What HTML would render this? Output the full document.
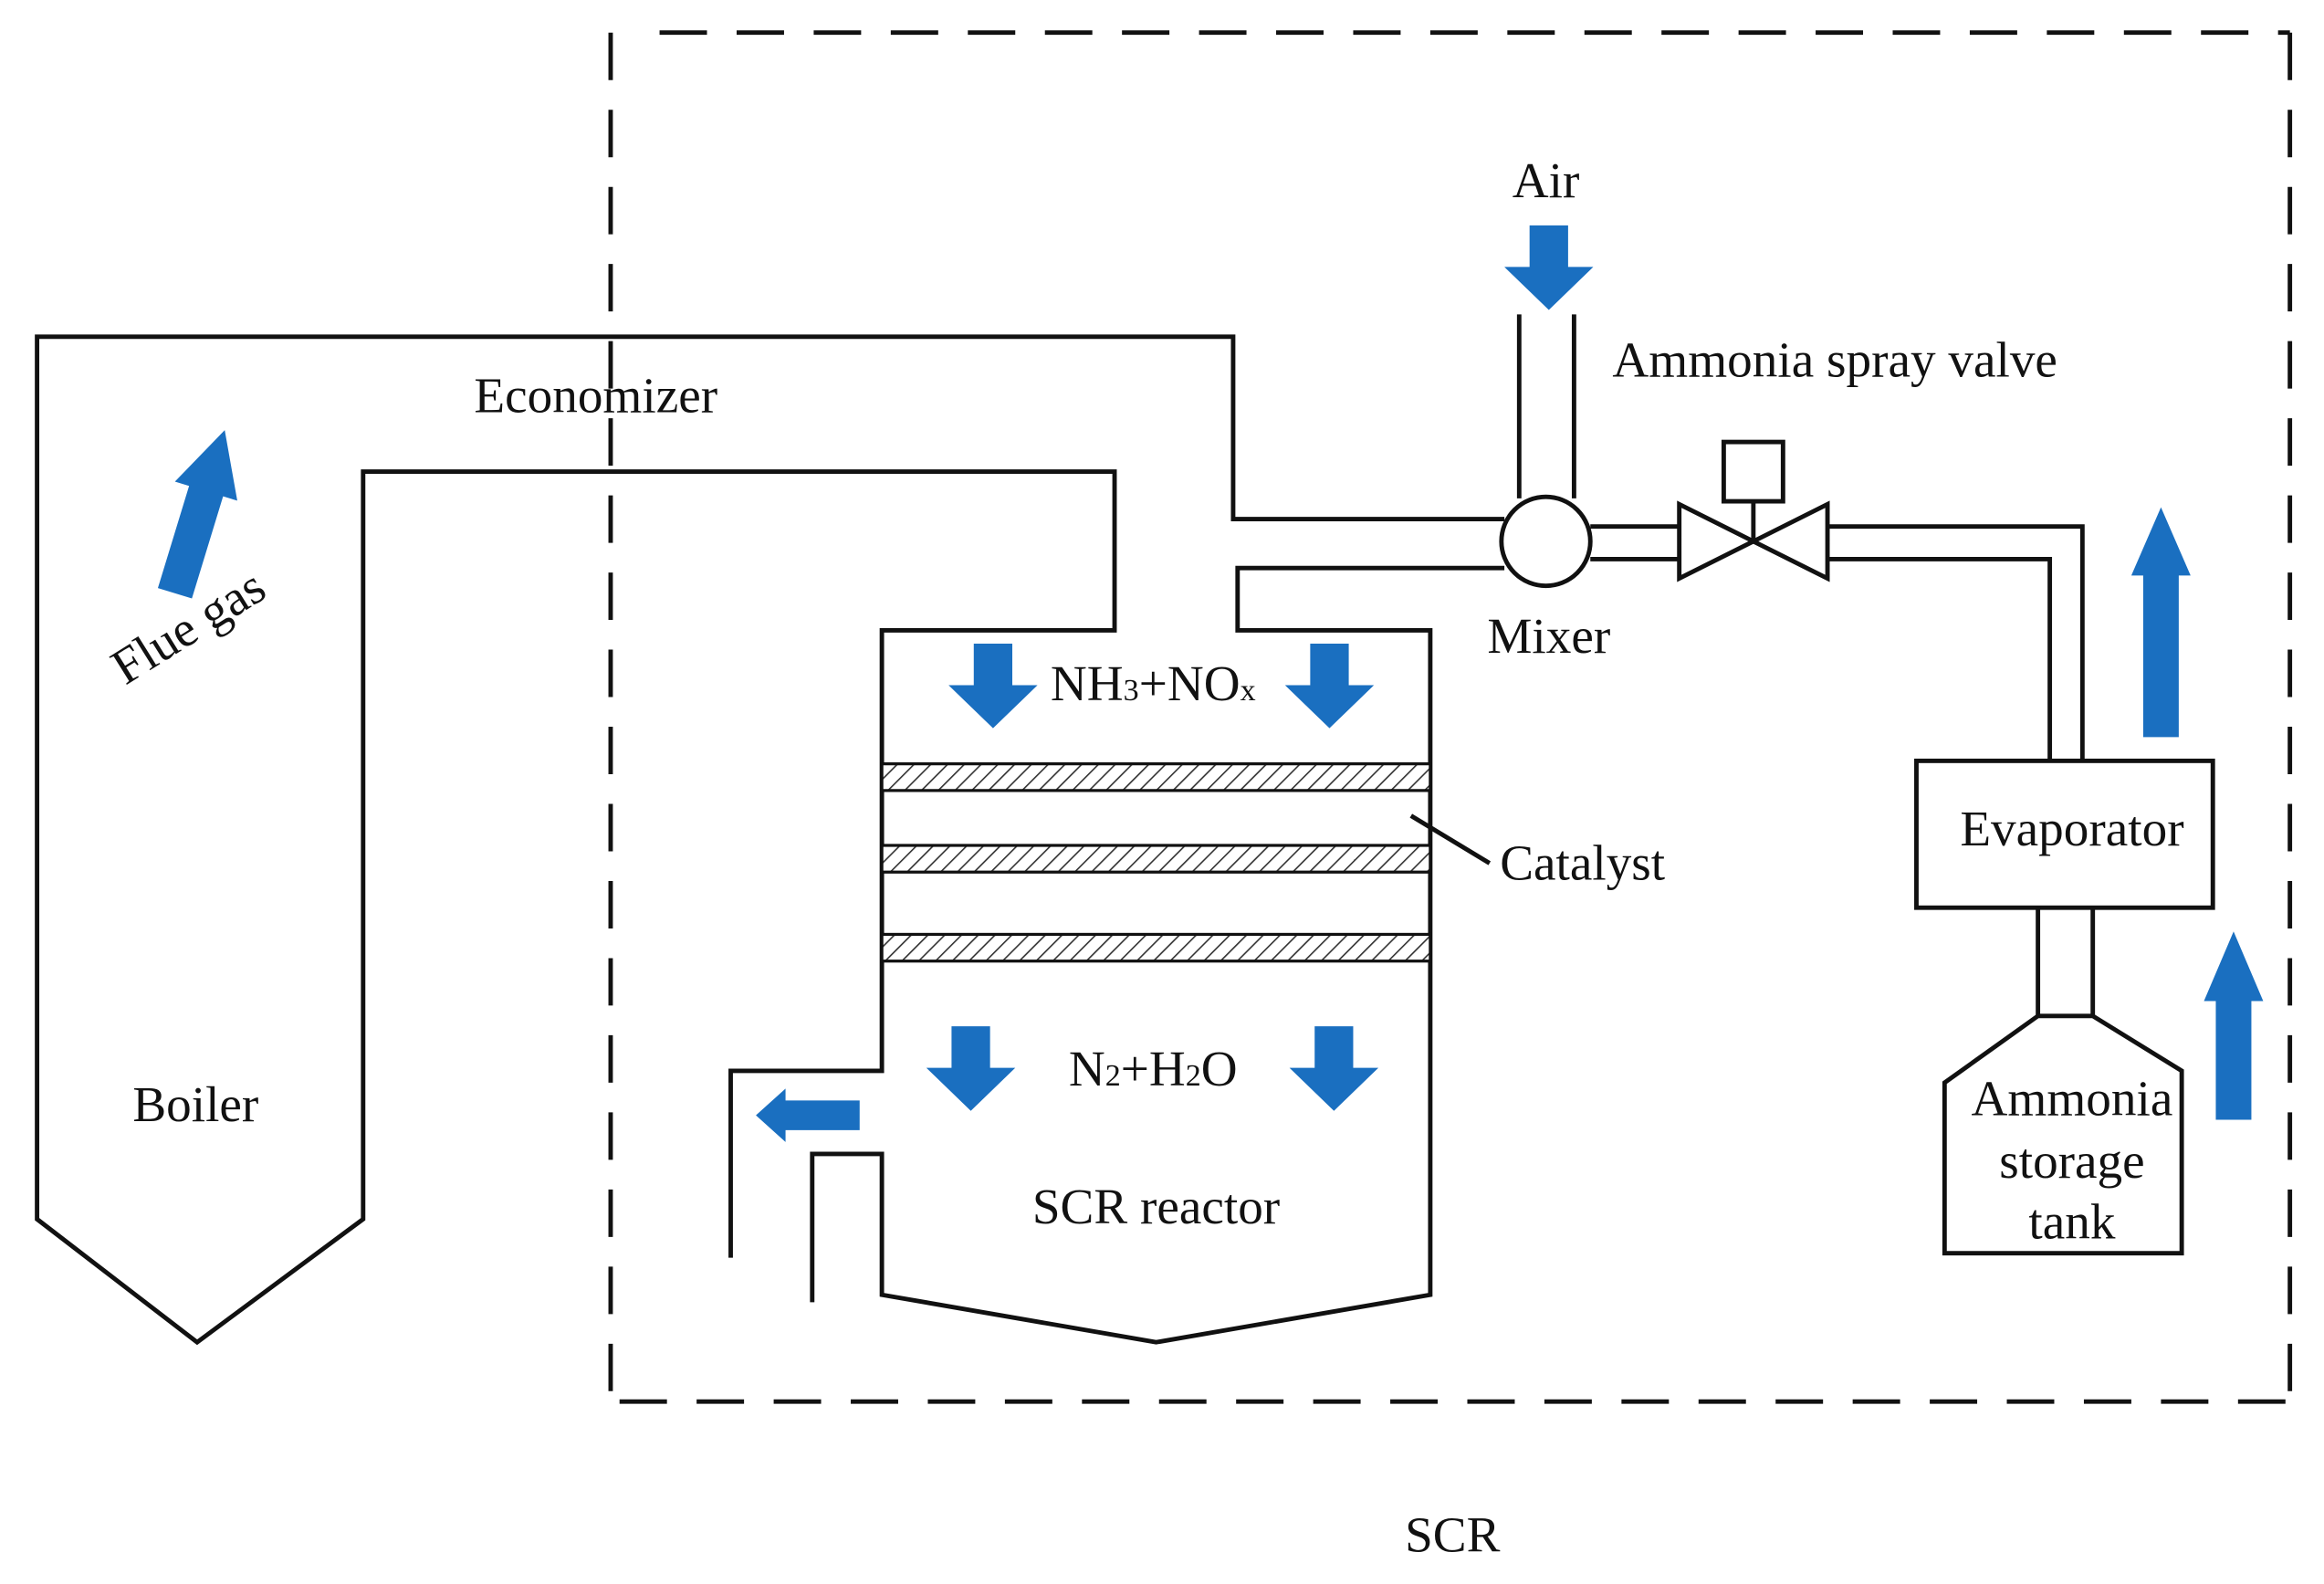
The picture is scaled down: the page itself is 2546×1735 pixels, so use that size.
<!DOCTYPE html>
<html><head><meta charset="utf-8"><style>
html,body{margin:0;padding:0;background:#fff;}
svg{display:block;}
text{font-family:"Liberation Serif",serif;font-size:34px;fill:#111;}
</style></head><body>
<svg width="2546" height="1735" viewBox="0 0 1568 1068" preserveAspectRatio="none" xmlns="http://www.w3.org/2000/svg">
<defs>
<pattern id="h" width="8" height="8" patternUnits="userSpaceOnUse" patternTransform="rotate(45)">
<rect width="8" height="8" fill="#fff"/><line x1="0" y1="0" x2="0" y2="8" stroke="#333" stroke-width="2"/>
</pattern>
<polygon id="da" points="-13,0 13,0 13,28 30,28 0,57 -30,28 -13,28" fill="#1a6fc0"/>
</defs>
<g fill="none" stroke="#111" stroke-width="3" stroke-dasharray="32,20">
<line x1="445" y1="22" x2="1545" y2="22"/>
<line x1="412" y1="22" x2="412" y2="945"/>
<line x1="418" y1="945" x2="1545" y2="945"/>
<line x1="1545" y1="22" x2="1545" y2="945"/>
</g>
<g fill="none" stroke="#111" stroke-width="3" stroke-linejoin="miter">
<polyline points="1015,350 832,350 832,227 25,227 25,822 133,905 245,822 245,318 752,318 752,425 595,425 595,722 493,722 493,848"/>
<polyline points="1015,383 835,383 835,425 965,425 965,873 780,905 595,873 595,778 548,778 548,878"/>
<circle cx="1043" cy="365" r="30" fill="#fff"/>
<line x1="1025" y1="212" x2="1025" y2="336"/>
<line x1="1062" y1="212" x2="1062" y2="336"/>
<line x1="1073" y1="355" x2="1133" y2="355"/>
<line x1="1073" y1="377" x2="1133" y2="377"/>
<polygon points="1133,340 1133,390 1183,365"/>
<polygon points="1233,340 1233,390 1183,365"/>
<line x1="1183" y1="365" x2="1183" y2="338"/>
<rect x="1163" y="298" width="40" height="40"/>
<polyline points="1233,355 1405,355 1405,513"/>
<polyline points="1233,377 1383,377 1383,513"/>
<rect x="1293" y="513" width="200" height="99"/>
<line x1="1375" y1="612" x2="1375" y2="685"/>
<line x1="1412" y1="612" x2="1412" y2="685"/>
<polygon points="1375,685 1412,685 1472,722 1472,845 1312,845 1312,730"/>
<line x1="952" y1="550" x2="1005" y2="582"/>
</g>
<g stroke="#111" stroke-width="2" fill="url(#h)">
<rect x="595" y="515" width="370" height="18"/>
<rect x="595" y="570" width="370" height="18"/>
<rect x="595" y="630" width="370" height="18"/>
</g>
<use href="#da" x="670" y="434"/>
<use href="#da" x="897" y="434"/>
<use href="#da" x="655" y="692"/>
<use href="#da" x="900" y="692"/>
<use href="#da" x="1045" y="152"/>
<polygon points="580,742 580,762 530,762 530,770 510,752 530,734 530,742" fill="#1a6fc0"/>
<polygon points="1446,497 1470,497 1470,388 1478,388 1458,342 1438,388 1446,388" fill="#1a6fc0"/>
<polygon points="1495,755 1519,755 1519,675 1527,675 1507,628 1487,675 1495,675" fill="#1a6fc0"/>
<polygon points="-12,0 12,0 12,-72 22,-72 0,-115 -22,-72 -12,-72" fill="#1a6fc0" transform="translate(118,400) rotate(17)"/>
<text x="1043" y="133" text-anchor="middle">Air</text>
<text x="1238" y="254" text-anchor="middle">Ammonia spray valve</text>
<text x="402" y="278" text-anchor="middle">Economizer</text>
<text x="1045" y="440" text-anchor="middle">Mixer</text>
<text x="778" y="472" text-anchor="middle">NH<tspan font-size="21">3</tspan>+NO<tspan font-size="21">x</tspan></text>
<text x="1012" y="593">Catalyst</text>
<text x="1398" y="570" text-anchor="middle">Evaporator</text>
<text x="778" y="732" text-anchor="middle">N<tspan font-size="21">2</tspan>+H<tspan font-size="21">2</tspan>O</text>
<text x="780" y="825" text-anchor="middle">SCR reactor</text>
<text x="132" y="756" text-anchor="middle">Boiler</text>
<text x="1398" y="752" text-anchor="middle">Ammonia</text>
<text x="1398" y="794" text-anchor="middle">storage</text>
<text x="1398" y="835" text-anchor="middle">tank</text>
<text x="980" y="1046" text-anchor="middle">SCR</text>
<text x="0" y="0" text-anchor="middle" transform="translate(133,432) rotate(-32)">Flue gas</text>
</svg>
</body></html>
